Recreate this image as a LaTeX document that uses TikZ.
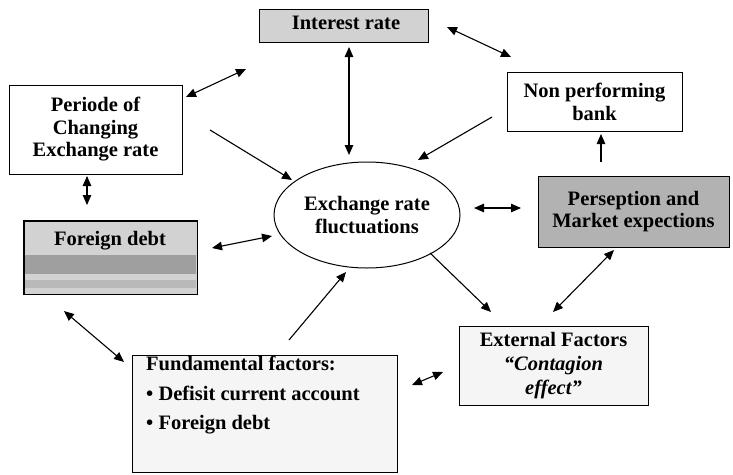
\documentclass[tikz,border=0pt]{standalone}
\usepackage{fontspec}
\setmainfont{Liberation Serif}
\usetikzlibrary{arrows.meta,shapes.geometric}
\begin{document}
\begin{tikzpicture}[x=1pt,y=-1pt,
  box/.style={draw,line width=1pt,inner sep=0pt},
  lbl/.style={font=\fontsize{20.5}{22.5}\selectfont\bfseries,align=center,inner sep=0pt},
  tip/.tip={Triangle[length=10pt,width=8.5pt]},
  dbl/.style={line width=1.1pt,{tip}-{tip}},
  one/.style={line width=1.1pt,-{tip}}]
\useasboundingbox[fill=white] (0,0) rectangle (733,474);

% boxes
\node[box,fill=gray!35,minimum width=169,minimum height=33] (ir) at (343.5,25.5) {};
\node[lbl] (irt) at (346,23) {Interest rate};

\node[box,fill=white,minimum width=173,minimum height=89,lbl] (per) at (95.5,129.5)
  {Periode of\\Changing\\Exchange rate};

\node[box,fill=white,minimum width=175,minimum height=59,lbl] (npb) at (594.5,102)
  {Non performing\\bank};

\node[box,fill=gray!60,minimum width=191,minimum height=71,lbl] (pme) at (633.5,211.5)
  {Perseption and\\Market expections};

\node[box,fill=gray!35,minimum width=173,minimum height=73] (fd) at (110.5,257.5) {};
\fill[gray!75] (25,255) rectangle (196,274);
\fill[gray!55] (25,280) rectangle (196,288);
\draw[line width=1pt] (fd.north west) rectangle (fd.south east);
\node[lbl] (fdt) at (110,241) {Foreign debt};

\node[box,fill=gray!8,minimum width=265,minimum height=117] (ff) at (264.5,413.5) {};
\node[lbl,align=left,anchor=north west,font=\fontsize{20.5}{29.5}\selectfont\bfseries] (fft) at (146,356)
  {Fundamental factors:\\\textbullet\ Defisit current account\\\textbullet\ Foreign debt};

\node[box,fill=gray!8,minimum width=189,minimum height=79,lbl,
  font=\fontsize{20.5}{24}\selectfont\bfseries] (ext) at (553.5,366)
  {External Factors\\\textit{“Contagion}\\\textit{effect”}};

\node[draw,line width=1pt,ellipse,minimum width=186,minimum height=106,lbl] (erf) at (367,215)
  {Exchange rate\\fluctuations};

% connector end points
\coordinate (a1s) at (186,97);  \coordinate (a1e) at (246,69);
\coordinate (a2s) at (447,27);  \coordinate (a2e) at (511,57);
\coordinate (a3s) at (349,47);  \coordinate (a3e) at (349,155);
\coordinate (a4s) at (210,130); \coordinate (a4e) at (292,180);
\coordinate (a5s) at (492,117); \coordinate (a5e) at (418,160);
\coordinate (a6s) at (87,176);  \coordinate (a6e) at (87,205);
\coordinate (a7s) at (601,162); \coordinate (a7e) at (601,134);
\coordinate (a8s) at (474,208); \coordinate (a8e) at (521,208);
\coordinate (a9s) at (212,248); \coordinate (a9e) at (272,236);
\coordinate (b1s) at (64,311);  \coordinate (b1e) at (124,362);
\coordinate (b2s) at (289,340); \coordinate (b2e) at (346,272);
\coordinate (b3s) at (430,253); \coordinate (b3e) at (491,312);
\coordinate (b4s) at (614,250); \coordinate (b4e) at (553,312);
\coordinate (b5s) at (412,385); \coordinate (b5e) at (443,372);

\draw[dbl] (a1s) -- (a1e);
\draw[dbl] (a2s) -- (a2e);
\draw[dbl] (a3s) -- (a3e);
\draw[one] (a4s) -- (a4e);
\draw[one] (a5s) -- (a5e);
\draw[dbl] (a6s) -- (a6e);
\draw[one] (a7s) -- (a7e);
\draw[dbl] (a8s) -- (a8e);
\draw[dbl] (a9s) -- (a9e);
\draw[dbl] (b1s) -- (b1e);
\draw[one] (b2s) -- (b2e);
\draw[one] (b3s) -- (b3e);
\draw[dbl] (b4s) -- (b4e);
\draw[dbl] (b5s) -- (b5e);
\end{tikzpicture}
\end{document}
